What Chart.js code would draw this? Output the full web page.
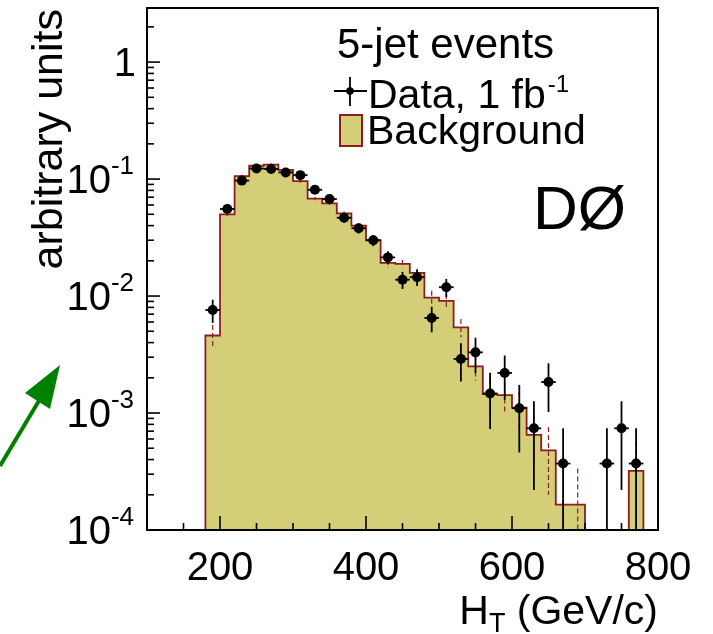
<!DOCTYPE html>
<html>
<head>
<meta charset="utf-8">
<title>H_T, 5-jet events</title>
<script src="https://cdn.jsdelivr.net/npm/chart.js@4.4.0/dist/chart.umd.min.js"></script>
<style>
  html, body { margin: 0; padding: 0; background: #fff; }
  canvas { display: block; }
</style>
</head>
<body>
<canvas id="ht" width="713" height="634"></canvas>
<script>
// H_T spectrum in 20 GeV bins (lower bin edges)
const binLow = [180, 200, 220, 240, 260, 280, 300, 320, 340, 360, 380, 400, 420, 440, 460, 480,
                500, 520, 540, 560, 580, 600, 620, 640, 660, 680, 700, 720, 740, 760, 780];
const binWidth = 20;

// expected background, normalised
const background = [0.0046, 0.050, 0.106, 0.130, 0.133, 0.120, 0.096, 0.068, 0.062, 0.051, 0.040,
                    0.030, 0.0192, 0.0188, 0.0158, 0.0097, 0.0091, 0.0054, 0.0025, 0.00145, 0.00142,
                    0.00111, 0.00065, 0.00048, 0.000165, 0.000165, 0, 0, 0, 0.00032, 0];
const backgroundErr = [0.00105, 0.002, 0.003, 0.0035, 0.0035, 0.0032, 0.0028, 0.0022, 0.002, 0.0018, 0.0016,
                       0.0013, 0.0016, 0.0015, 0.0013, 0.0014, 0.0013, 0.00095, 0.0006, 0.0005, 0.0004,
                       0.0004, 0.0003, 0.00028, 0.00017, 0.00017, 0, 0, 0, 0.00025, 0];

// data, 1 fb^-1 (null = empty bin)
const dataVals = [0.0076, 0.0555, 0.097, 0.123, 0.122, 0.114, 0.108, 0.081, 0.0675, 0.0467, 0.038,
                  0.030, 0.0214, 0.0138, 0.0145, 0.0065, 0.0119, 0.0029, 0.0033, 0.00147, 0.0022,
                  0.0011, 0.00074, 0.00184, 0.00037, null, null, 0.00037, 0.00074, 0.00037, null];
const dataErr = [0.0017, 0.0045, 0.006, 0.0067, 0.0067, 0.0065, 0.0063, 0.0055, 0.005, 0.0041, 0.0037,
                 0.0033, 0.0028, 0.0023, 0.0023, 0.0016, 0.0021, 0.00104, 0.0011, 0.00074, 0.0009,
                 0.00064, 0.00052, 0.00082, 0.00037, null, null, 0.00037, 0.00052, 0.00037, null];

const xMin = 100, xMax = 800;
const yMin = 1e-4, yMax = 2.9;
const xTicks = [200, 400, 600, 800];
const xMinorTicks = [150, 250, 300, 350, 450, 500, 550, 650, 700, 750];
const yTicks = [1, 0.1, 0.01, 0.001, 0.0001];
const yTickExp = [0, -1, -2, -3, -4];

const FONT = '"Liberation Sans", Arial, Helvetica, sans-serif';
const FILL = '#d4ce78';
const LINE = '#8b1e1e';

// histogram outline as a stepped line, empty bins sit on the axis floor
const histPoints = [{ x: binLow[0], y: yMin }];
binLow.forEach((lo, i) => histPoints.push({ x: lo, y: Math.max(background[i], yMin) }));
histPoints.push({ x: binLow[binLow.length - 1] + binWidth, y: yMin });

const dataPoints = [];
binLow.forEach((lo, i) => {
  if (dataVals[i] !== null) dataPoints.push({ x: lo + binWidth / 2, y: dataVals[i] });
});

function vline(ctx, x, y0, y1) {
  ctx.beginPath(); ctx.moveTo(x, y0); ctx.lineTo(x, y1); ctx.stroke();
}
function hline(ctx, x0, x1, y) {
  ctx.beginPath(); ctx.moveTo(x0, y); ctx.lineTo(x1, y); ctx.stroke();
}

const rootStyle = {
  id: 'rootStyle',
  // after the histogram, before the data markers
  afterDatasetDraw(chart, args) {
    if (args.index !== 1) return;
    const { ctx, chartArea: a, scales: { x, y } } = chart;
    ctx.save();

    // background uncertainty
    ctx.strokeStyle = LINE;
    ctx.lineWidth = 1.2;
    ctx.setLineDash([5, 3]);
    binLow.forEach((lo, i) => {
      const e = backgroundErr[i];
      if (!e) return;
      const px = x.getPixelForValue(lo + binWidth / 2);
      const lowV = background[i] - e;
      const top = y.getPixelForValue(background[i] + e);
      const bot = lowV > yMin ? y.getPixelForValue(lowV) : a.bottom;
      vline(ctx, px, top, bot);
    });
    ctx.setLineDash([]);

    // inward ticks
    ctx.strokeStyle = '#000';
    ctx.lineWidth = 1.6;
    xTicks.forEach(v => { const px = x.getPixelForValue(v); vline(ctx, px, a.bottom, a.bottom - 14); });
    xMinorTicks.forEach(v => { const px = x.getPixelForValue(v); vline(ctx, px, a.bottom, a.bottom - 7); });
    yTicks.forEach(v => { const py = y.getPixelForValue(v); hline(ctx, a.left, a.left + 13, py); });
    for (let d = 1e-4; d < yMax; d *= 10) {
      for (let m = 2; m <= 9; m++) {
        const v = m * d;
        if (v > yMax) break;
        hline(ctx, a.left, a.left + 7, y.getPixelForValue(v));
      }
    }

    // frame
    ctx.lineWidth = 2;
    ctx.strokeRect(a.left, a.top, a.right - a.left, a.bottom - a.top);

    // data error bars
    ctx.lineWidth = 1.8;
    binLow.forEach((lo, i) => {
      if (dataVals[i] === null) return;
      const px = x.getPixelForValue(lo + binWidth / 2);
      const py = y.getPixelForValue(dataVals[i]);
      const lowV = dataVals[i] - dataErr[i];
      const top = y.getPixelForValue(dataVals[i] + dataErr[i]);
      const bot = lowV > yMin ? y.getPixelForValue(lowV) : a.bottom;
      vline(ctx, px, top, bot);
      hline(ctx, x.getPixelForValue(lo), x.getPixelForValue(lo + binWidth), py);
    });
    ctx.restore();
  },

  afterDraw(chart) {
    const { ctx, chartArea: a, scales: { x, y } } = chart;
    ctx.save();
    ctx.fillStyle = '#000';
    ctx.textBaseline = 'alphabetic';

    // x tick labels
    ctx.font = `40px ${FONT}`;
    ctx.textAlign = 'center';
    xTicks.forEach(v => ctx.fillText(String(v), x.getPixelForValue(v), a.bottom + 50));

    // y tick labels, powers of ten
    const right = a.left - 13;
    yTicks.forEach((v, i) => {
      const py = y.getPixelForValue(v);
      const base = py + 14;
      ctx.textAlign = 'left';
      if (yTickExp[i] === 0) {
        ctx.font = `40px ${FONT}`;
        const w = ctx.measureText('1').width;
        ctx.fillText('1', right - w + 2, base);
        return;
      }
      const sup = String(yTickExp[i]);
      ctx.font = `26px ${FONT}`;
      const ws = ctx.measureText(sup).width;
      ctx.font = `40px ${FONT}`;
      const wb = ctx.measureText('10').width;
      const start = right - ws - wb;
      ctx.fillText('10', start, base);
      ctx.font = `26px ${FONT}`;
      ctx.fillText(sup, start + wb, base - 19);
    });

    // x title H_T (GeV/c), right aligned to the frame
    ctx.font = `41px ${FONT}`;
    const wH = ctx.measureText('H').width;
    const rest = ' (GeV/c)';
    const wR = ctx.measureText(rest).width;
    ctx.font = `27px ${FONT}`;
    const wT = ctx.measureText('T').width;
    const sx = a.right - wH - wT - wR;
    ctx.font = `41px ${FONT}`;
    ctx.fillText('H', sx, a.bottom + 94);
    ctx.font = `27px ${FONT}`;
    ctx.fillText('T', sx + wH, a.bottom + 102);
    ctx.font = `41px ${FONT}`;
    ctx.fillText(rest, sx + wH + wT, a.bottom + 94);

    // y title
    ctx.save();
    ctx.translate(62, a.top + 1);
    ctx.rotate(-Math.PI / 2);
    ctx.textAlign = 'right';
    ctx.font = `43px ${FONT}`;
    ctx.fillText('arbitrary units', 0, 0);
    ctx.restore();

    // legend
    ctx.textAlign = 'left';
    ctx.font = `42px ${FONT}`;
    ctx.fillText('5-jet events', 337, 58);

    ctx.strokeStyle = '#000';
    ctx.lineWidth = 1.8;
    hline(ctx, 334, 367, 91);
    vline(ctx, 350, 77, 106);
    ctx.beginPath(); ctx.arc(350, 91, 3.8, 0, Math.PI * 2); ctx.fill();
    ctx.font = `41px ${FONT}`;
    const dl = 'Data, 1 fb';
    ctx.fillText(dl, 368, 108);
    const wd = ctx.measureText(dl).width;
    ctx.font = `24px ${FONT}`;
    ctx.fillText('-1', 368 + wd + 2, 92);

    ctx.fillStyle = FILL;
    ctx.fillRect(340, 115, 22, 31);
    ctx.strokeStyle = LINE;
    ctx.lineWidth = 2;
    ctx.strokeRect(340, 115, 22, 31);
    ctx.fillStyle = '#000';
    ctx.font = `41px ${FONT}`;
    ctx.fillText('Background', 367, 144);

    // experiment label
    ctx.font = `62px ${FONT}`;
    ctx.fillText('D\u00D8', 533, 229);

    // green arrow at the left margin
    ctx.strokeStyle = '#008000';
    ctx.fillStyle = '#008000';
    ctx.lineWidth = 4;
    ctx.beginPath(); ctx.moveTo(0, 466); ctx.lineTo(40, 399); ctx.stroke();
    ctx.beginPath();
    ctx.moveTo(60, 365); ctx.lineTo(25, 393); ctx.lineTo(50, 409); ctx.closePath();
    ctx.fill();
    ctx.restore();
  }
};

new Chart(document.getElementById('ht'), {
  type: 'line',
  data: {
    datasets: [
      {
        label: 'Data, 1 fb-1',
        type: 'scatter',
        data: dataPoints,
        showLine: false,
        pointRadius: 5,
        pointBackgroundColor: '#000',
        pointBorderColor: '#000',
        pointBorderWidth: 0
      },
      {
        label: 'Background',
        data: histPoints,
        stepped: 'before',
        fill: 'start',
        backgroundColor: FILL,
        borderColor: LINE,
        borderWidth: 1.8,
        pointRadius: 0,
        tension: 0
      }
    ]
  },
  options: {
    responsive: false,
    devicePixelRatio: 1,
    animation: false,
    layout: { padding: { left: 147, top: 8, right: 55, bottom: 104 } },
    scales: {
      x: { type: 'linear', min: xMin, max: xMax, display: false },
      y: { type: 'logarithmic', min: yMin, max: yMax, display: false }
    },
    plugins: {
      legend: { display: false },
      tooltip: { enabled: false }
    }
  },
  plugins: [rootStyle]
});
</script>
</body>
</html>
